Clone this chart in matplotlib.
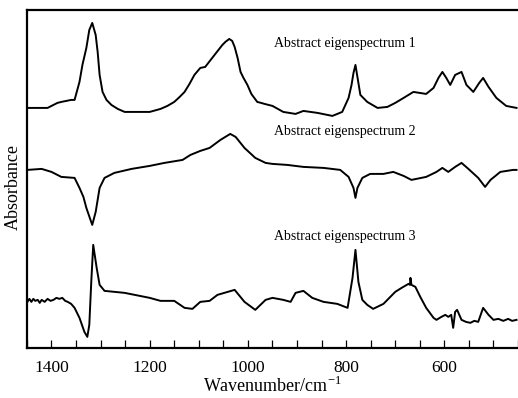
import matplotlib.pyplot as plt
from matplotlib.ticker import MultipleLocator

plt.rcParams['font.family'] = ['Liberation Serif', 'DejaVu Serif']
plt.rcParams['mathtext.fontset'] = 'custom'
plt.rcParams['mathtext.rm'] = 'Liberation Serif'

# spectrum 1 (wavenumber, relative absorbance)
wn1 = [1449, 1408, 1388, 1380, 1370, 1360, 1353, 1343, 1337, 1329, 1323, 1317, 1310, 1306,
       1302, 1296, 1288, 1278, 1265, 1251, 1200, 1178, 1164, 1150, 1139, 1129, 1119, 1109,
       1097, 1087, 1068, 1052, 1046, 1038, 1032, 1027, 1021, 1015, 1009, 1001, 993, 981, 973,
       966, 950, 928, 903, 887, 858, 828, 808, 795, 789, 785, 781, 777, 771, 757, 736, 716,
       700, 683, 663, 637, 622, 612, 604, 596, 588, 578, 565, 555, 541, 529, 521, 510, 494,
       474, 453]
a1 = [-0.01, -0.01, 0.04, 0.05, 0.06, 0.07, 0.07, 0.25, 0.42, 0.59, 0.77, 0.84, 0.72, 0.55,
      0.32, 0.15, 0.07, 0.02, -0.02, -0.05, -0.05, -0.02, 0.01, 0.05, 0.10, 0.15, 0.23, 0.32,
      0.39, 0.40, 0.52, 0.62, 0.65, 0.68, 0.66, 0.60, 0.49, 0.35, 0.29, 0.22, 0.13, 0.05, 0.04,
      0.03, 0.01, -0.05, -0.07, -0.04, -0.06, -0.09, -0.05, 0.09, 0.22, 0.34, 0.42, 0.30, 0.12,
      0.05, -0.01, 0.00, 0.04, 0.09, 0.15, 0.13, 0.19, 0.29, 0.35, 0.29, 0.22, 0.32, 0.35,
      0.22, 0.15, 0.24, 0.29, 0.20, 0.09, 0.01, -0.01]

# spectrum 2
wn2 = [1449, 1420, 1400, 1380, 1353, 1343, 1335, 1329, 1322, 1317, 1310, 1306, 1302, 1297,
       1292, 1272, 1237, 1200, 1170, 1133, 1117, 1097, 1078, 1056, 1036, 1025, 1007, 985, 964,
       950, 920, 887, 846, 812, 795, 785, 781, 777, 767, 751, 724, 704, 683, 667, 637, 616,
       604, 592, 578, 565, 551, 531, 517, 506, 486, 460, 453]
a2 = [0.00, 0.01, -0.02, -0.07, -0.08, -0.18, -0.27, -0.38, -0.48, -0.55, -0.42, -0.30, -0.18,
      -0.13, -0.08, -0.03, 0.01, 0.04, 0.07, 0.10, 0.15, 0.19, 0.22, 0.30, 0.36, 0.33, 0.22,
      0.12, 0.07, 0.06, 0.05, 0.03, 0.02, 0.00, -0.07, -0.18, -0.28, -0.18, -0.08, -0.04,
      -0.04, -0.02, -0.06, -0.10, -0.07, -0.02, 0.02, -0.02, 0.03, 0.07, 0.01, -0.08, -0.17,
      -0.10, -0.02, 0.00, 0.00]

# spectrum 3
wn3 = [1449, 1445, 1441, 1437, 1433, 1428, 1424, 1420, 1414, 1408, 1402, 1396, 1390, 1384,
       1378, 1372, 1367, 1360, 1353, 1343, 1333, 1327, 1323, 1319, 1315, 1308, 1302, 1292,
       1251, 1200, 1178, 1150, 1129, 1113, 1097, 1078, 1062, 1027, 1007, 985, 964, 950, 928,
       913, 903, 887, 869, 846, 818, 797, 787, 781, 775, 767, 757, 745, 724, 700, 687, 673,
       670, 669, 667, 659, 649, 637, 622, 616, 606, 598, 592, 586, 582, 578, 574, 565, 556,
       547, 539, 531, 521, 510, 500, 490, 480, 470, 462, 453]
a3 = [-0.02, 0.01, -0.02, 0.01, -0.01, 0.00, -0.03, 0.00, -0.02, 0.01, -0.01, 0.00, 0.02,
      0.01, 0.02, -0.01, -0.02, -0.04, -0.08, -0.18, -0.32, -0.37, -0.25, 0.18, 0.55, 0.32,
      0.15, 0.09, 0.07, 0.02, -0.01, -0.01, -0.08, -0.09, -0.02, -0.01, 0.05, 0.10, -0.02,
      -0.10, 0.00, 0.02, 0.00, -0.02, 0.07, 0.09, 0.02, -0.02, -0.04, -0.08, 0.22, 0.50, 0.18,
      0.00, -0.05, -0.09, -0.04, 0.08, 0.12, 0.16, 0.15, 0.22, 0.15, 0.13, 0.03, -0.08, -0.18,
      -0.20, -0.17, -0.15, -0.17, -0.15, -0.28, -0.12, -0.10, -0.20, -0.22, -0.23, -0.21,
      -0.22, -0.08, -0.15, -0.20, -0.19, -0.21, -0.19, -0.21, -0.20]

spektri = [(wn1, a1, 2.41), (wn2, a2, 1.78), (wn3, a3, 0.48)]
napisi = ['Abstract eigenspectrum 1', 'Abstract eigenspectrum 2', 'Abstract eigenspectrum 3']
napis_y = [3.04, 2.16, 1.11]

fig = plt.figure(figsize=(5.18, 3.98), dpi=100)
ax = fig.add_axes([0.052, 0.126, 0.948, 0.849])

for (x, y, odmik) in spektri:
    ax.plot(x, [v + odmik for v in y], color='black', lw=1.4, solid_joinstyle='round')

for besedilo, yy in zip(napisi, napis_y):
    ax.text(946, yy, besedilo, fontsize=10, va='center', ha='left')

ax.set_xlim(1450, 450)
ax.set_ylim(0, 3.38)
ax.set_yticks([])
ax.xaxis.set_major_locator(MultipleLocator(200))
ax.xaxis.set_minor_locator(MultipleLocator(50))
ax.tick_params(axis='x', which='both', direction='in', length=6, width=0.9, labelsize=12.5, pad=9)
ax.spines['right'].set_visible(False)
for s in ['top', 'left', 'bottom']:
    ax.spines[s].set_linewidth(1.6)

ax.set_xlabel(r'Wavenumber/cm$^{\mathrm{-1}}$', fontsize=13, labelpad=0)
fig.text(0.025, 0.53, 'Absorbance', rotation=90, fontsize=13, ha='center', va='center')

fig.savefig('out.png', dpi=100)
